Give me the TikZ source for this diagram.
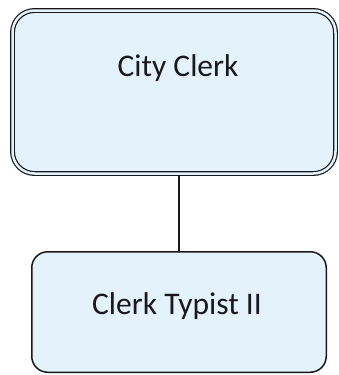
\documentclass[tikz,border=0pt]{standalone}
\usepackage{fontspec}
\setmainfont{Carlito}
\usetikzlibrary{backgrounds}
\definecolor{boxblue}{RGB}{228,243,251}
\definecolor{inkgray}{RGB}{25,25,28}
\tikzset{
  posbox/.style={draw=inkgray, fill=boxblue, line width=1.5pt, inner sep=0pt},
  postext/.style={inner sep=0pt, text=inkgray, font=\fontsize{31.5}{37}\selectfont}
}

\begin{document}
\begin{tikzpicture}[x=1pt, y=1pt, yscale=-1, xscale=1]
\useasboundingbox (0,0) rectangle (338,375);
% 上框 (双线)
\node [posbox, line width=1.2pt, double=boxblue, double distance=2.5pt, rounded corners=22pt, minimum width=323pt, minimum height=163pt] (clerk) at (174, 92) {};
\node [postext] (clerktxt) at (178, 68) {City Clerk};
% 下框
\node [posbox, rounded corners=16pt, minimum width=294.5pt, minimum height=120.5pt] (typist) at (179, 312) {};
\node [postext] (typisttxt) at (177, 306) {Clerk Typist II};
% 连线
\begin{scope}[on background layer]
\draw [inkgray, line width=1.5pt] (typist.north) -- (typist.north |- clerk.south);
\end{scope}
\end{tikzpicture}
\end{document}
